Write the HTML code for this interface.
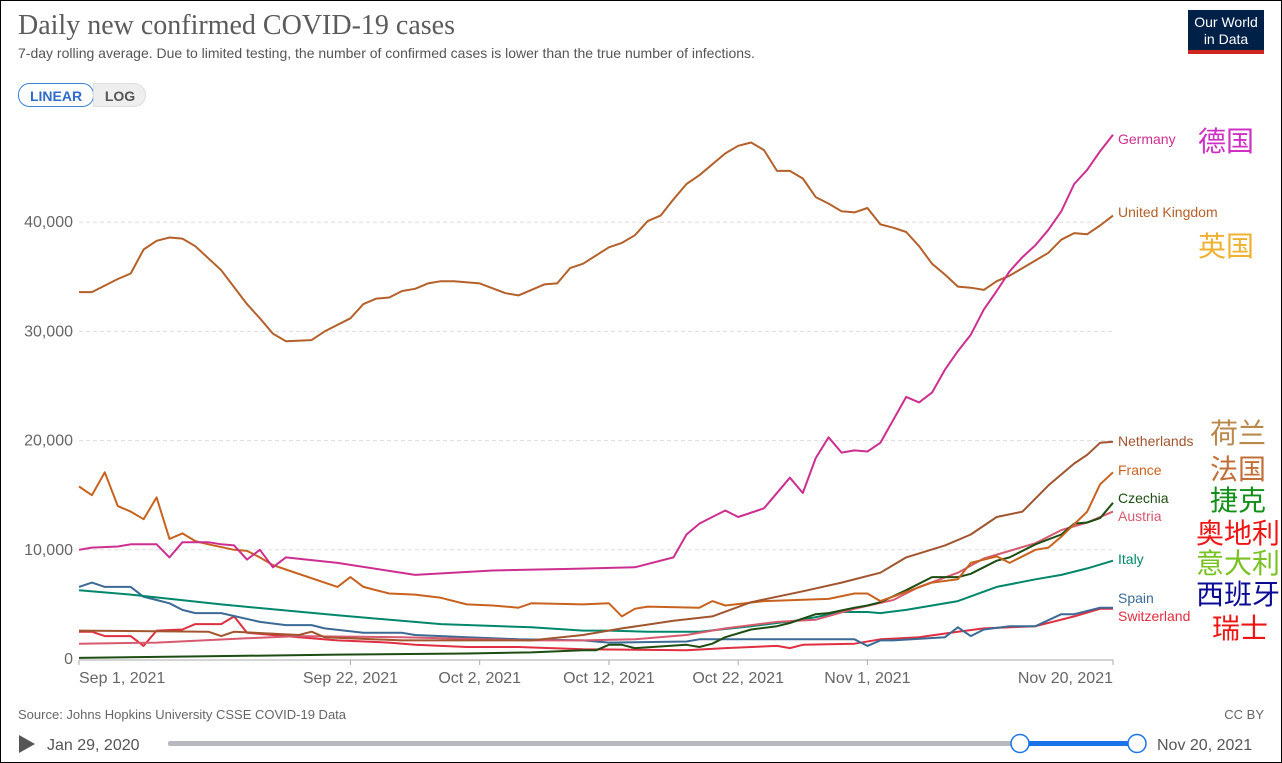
<!DOCTYPE html>
<html><head><meta charset="utf-8">
<style>
html,body{margin:0;padding:0;background:#fff;}
body{width:1282px;height:763px;overflow:hidden;font-family:"Liberation Sans","Noto Sans CJK SC",sans-serif;}
#frame{position:absolute;left:0;top:0;width:1280px;height:761px;border:1px solid #000;}
svg{position:absolute;left:0;top:0;}
</style></head>
<body>
<div id="frame"></div>
<svg id="c" width="1282" height="763">
<text x="18" y="34" font-family="Liberation Serif, serif" font-size="28" fill="#5b5b5b">Daily new confirmed COVID-19 cases</text>
<text x="18" y="58" font-size="14" fill="#555">7-day rolling average. Due to limited testing, the number of confirmed cases is lower than the true number of infections.</text>
<g>
<rect x="1188" y="10" width="76" height="44" fill="#002147"/>
<rect x="1188" y="50" width="76" height="4" fill="#ce261e"/>
<text x="1226" y="27" font-size="14" fill="#fff" text-anchor="middle">Our World</text>
<text x="1226" y="44" font-size="14" fill="#fff" text-anchor="middle">in Data</text>
</g>
<g>
<rect x="18.5" y="83.5" width="75" height="23" rx="11" fill="#fff" stroke="#3b82d6"/>
<text x="56" y="101" font-size="14" font-weight="bold" fill="#2d6cc9" text-anchor="middle">LINEAR</text>
</g>
<g>
<path d="M93.5 83.5 H134 a11.5 11.5 0 0 1 0 23 H93.5 Z" fill="#eeeeee" stroke="#ddd"/>
<text x="120" y="101" font-size="14" font-weight="bold" fill="#555" text-anchor="middle">LOG</text>
</g>
<g id="grid"></g>
<g id="lines"></g>
<g id="labels"></g>
<text x="18" y="719" font-size="13" fill="#666">Source: Johns Hopkins University CSSE COVID-19 Data</text>
<text x="1264" y="719" font-size="13" fill="#666" text-anchor="end">CC BY</text>
<path d="M19 735 L35 744 L19 753 Z" fill="#555"/>
<text x="47" y="750" font-size="16" fill="#555">Jan 29, 2020</text>
<rect x="168" y="741" width="970" height="5" rx="2" fill="#b8b8c0"/>
<rect x="1020" y="741" width="117" height="5" fill="#1a73e8"/>
<circle cx="1020" cy="743.5" r="9" fill="#fff" stroke="#1a73e8" stroke-width="1.5"/>
<circle cx="1137" cy="743.5" r="9" fill="#fff" stroke="#1a73e8" stroke-width="1.5"/>
<text x="1157" y="750" font-size="16" fill="#555">Nov 20, 2021</text>
</svg>
<script>
const yTicks=[0,10000,20000,30000,40000];
const xTickDays=[0,21,31,41,51,61,80];
const xTickLabels=["Sep 1, 2021","Sep 22, 2021","Oct 2, 2021","Oct 12, 2021","Oct 22, 2021","Nov 1, 2021","Nov 20, 2021"];
const ukDays=[0,1,3,4,5,6,7,8,9,11,13,14,15,16,18,19,21,22,23,24,25,26,27,28,29,31,33,34,36,37,38,39,41,42,43,44,45,46,47,48,50,51,52,53,54,55,56,57,58,59,60,61,62,63,64,65,66,67,68,69,70,71,72,73,75,76,77,78,79,80];
const ukVals=[33600,33600,34800,35300,37500,38300,38600,38500,37800,35600,32500,31200,29800,29100,29200,30000,31200,32500,33000,33100,33700,33900,34400,34600,34600,34400,33500,33300,34300,34400,35800,36200,37700,38100,38800,40100,40600,42100,43500,44300,46300,47000,47300,46600,44700,44700,44000,42300,41700,41000,40900,41300,39800,39500,39100,37800,36200,35200,34100,34000,33800,34600,35100,35800,37200,38400,39000,38900,39700,40600];
const deDays=[0,1,3,4,6,7,8,10,11,12,13,14,15,16,20,26,32,38,43,46,47,48,49,50,51,53,55,56,57,58,59,60,61,62,64,65,66,67,68,69,70,71,72,73,74,75,76,77,78,79,80];
const deVals=[10000,10200,10300,10500,10500,9300,10700,10700,10500,10400,9100,10000,8400,9300,8800,7700,8100,8250,8400,9300,11400,12400,13000,13600,13000,13800,16600,15200,18400,20300,18900,19100,19000,19800,24000,23500,24400,26500,28200,29700,32000,33700,35500,36800,37900,39300,41000,43500,44800,46500,48000];
const nlDays=[0,10,11,12,17,18,19,25,35,39,42,46,49,52,56,59,62,64,67,69,71,73,75,77,78,79,80];
const nlVals=[2600,2500,2100,2500,2200,2500,2000,1700,1700,2200,2800,3500,3900,5200,6200,7000,7900,9300,10400,11400,13000,13500,15900,17900,18700,19800,19900];
const frDays=[0,1,2,3,4,5,6,7,8,9,10,12,13,14,15,16,20,21,22,24,26,28,30,32,34,35,39,41,42,43,44,48,49,50,53,58,60,61,62,66,68,69,71,72,74,75,76,78,79,80];
const frVals=[15800,15000,17100,14000,13500,12800,14800,11000,11500,10800,10500,10000,9900,9300,8600,8200,6600,7500,6600,6000,5900,5600,5000,4900,4700,5100,5000,5100,3900,4600,4800,4700,5300,4900,5300,5500,6000,6000,5300,7000,7300,8800,9400,8800,10000,10200,11200,13500,16000,17100];
const czDays=[0,10,20,30,35,39,40,41,42,43,47,48,49,50,52,54,55,57,58,60,61,62,64,66,68,69,71,72,74,76,77,78,79,80];
const czVals=[100,250,400,500,600,800,800,1300,1300,1000,1300,1100,1400,2000,2700,3000,3300,4100,4200,4700,4900,5200,6300,7500,7500,7800,9000,9300,10500,11400,12400,12500,12900,14300];
const atDays=[0,6,13,17,25,35,39,43,47,50,54,57,60,63,65,68,70,74,76,78,80];
const atVals=[1400,1500,1900,2100,2000,1700,1700,1800,2200,2800,3400,3600,4600,5400,6600,7900,9200,10600,11800,12500,13500];
const itDays=[0,4,11,20,28,35,39,41,44,48,52,56,59,61,62,64,68,71,74,76,78,80];
const itVals=[6300,5900,5000,4000,3200,2900,2600,2600,2500,2500,3000,3600,4300,4300,4200,4500,5300,6600,7300,7700,8300,9000];
const esDays=[0,1,2,4,5,6,7,8,9,11,14,16,18,19,22,25,26,30,34,39,41,47,48,60,61,62,63,67,68,69,70,72,74,76,77,79,80];
const esVals=[6600,7000,6600,6600,5700,5400,5100,4500,4200,4200,3400,3100,3100,2800,2400,2400,2200,2000,1800,1700,1500,1600,1800,1800,1200,1700,1700,2000,2900,2100,2700,3000,3000,4100,4100,4700,4700];
const chDays=[0,1,2,4,5,6,8,9,11,12,13,17,20,24,26,30,34,39,47,50,54,55,56,60,62,65,68,70,74,77,79,80];
const chVals=[2500,2500,2100,2100,1200,2600,2700,3200,3200,3900,2400,2000,1700,1500,1300,1100,1100,900,800,1000,1200,1000,1300,1400,1800,2000,2500,2800,3000,3900,4600,4600];
const seriesNames=["Germany","United Kingdom","Netherlands","France","Czechia","Austria","Italy","Spain","Switzerland"];

const X0=79,X1=1113,Y0=659,PX=109.2/10000;
const xs=d=>X0+(X1-X0)*d/80;
const ys=v=>Y0-v*PX;
const NS="http://www.w3.org/2000/svg";
function mk(t,a,p){const e=document.createElementNS(NS,t);for(const k in a)e.setAttribute(k,a[k]);p.appendChild(e);return e;}
const grid=document.getElementById('grid');
yTicks.forEach(v=>{
  if(v>0){const l=mk('line',{x1:X0,x2:X1,y1:ys(v),y2:ys(v),stroke:'#ddd','stroke-dasharray':'4,3'},grid);
  
  }
  const t=mk('text',{x:73,y:ys(v)+5,'font-size':16,fill:'#666','text-anchor':'end'},grid);
  t.textContent=v===0?'0':v.toLocaleString('en-US');
  
  
});
const ax=mk('line',{x1:X0,x2:X1,y1:Y0+1,y2:Y0+1,stroke:'#aaa'},grid);


xTickDays.forEach((d,i)=>{
  const tk=mk('line',{x1:xs(d),x2:xs(d),y1:Y0+1,y2:Y0+6,stroke:'#aaa'},grid);
  
  
  const anchor=i===0?'start':(i===xTickDays.length-1?'end':'middle');
  const t=mk('text',{x:xs(d),y:683,'font-size':16,fill:'#666','text-anchor':anchor},grid);
  t.textContent=xTickLabels[i];
  
  
});
const series=[
 [deDays,deVals,'#cc2f8f'],[ukDays,ukVals,'#b4602a'],[nlDays,nlVals,'#a0552f'],[frDays,frVals,'#c8621f'],
 [czDays,czVals,'#1d4d12'],[atDays,atVals,'#d65a70'],[itDays,itVals,'#00876b'],[esDays,esVals,'#3b6a95'],[chDays,chVals,'#df2f40']];
const order=[8,7,6,5,4,3,2,1,0];
const lg=document.getElementById('lines');
order.forEach(i=>{
  const [d,v,c]=series[i];
  const p=mk('path',{d:d.map((dd,j)=>(j?'L':'M')+xs(dd).toFixed(1)+' '+ys(v[j]).toFixed(1)).join(''),fill:'none',stroke:c,'stroke-width':2,'stroke-linejoin':'round'},lg);
  
  
});
const labY=[139,212,441,470,498,516,559,598,616];
const lb=document.getElementById('labels');
series.forEach((s,i)=>{
  const t=mk('text',{x:1118,y:labY[i]+5,'font-size':14,fill:s[2]},lb);
  t.textContent=seriesNames[i];
  
  
});
const cjk=[['德国',1198,151,'#d02fc4'],['英国',1198,256,'#f0b030'],['荷兰',1210,443,'#b8894a'],['法国',1210,479,'#c2703a'],['捷克',1210,510,'#14901a'],['奥地利',1196,543,'#ee1515'],['意大利',1196,573,'#7ac224'],['西班牙',1196,604,'#0a0a94'],['瑞士',1212,638,'#ee1515']];
cjk.forEach(c=>{
  const t=mk('text',{x:c[1],y:c[2],'font-size':28,fill:c[3],'font-family':'Noto Sans CJK SC, sans-serif'},lb);
  t.textContent=c[0];
  
  
});
</script>
</body></html>
